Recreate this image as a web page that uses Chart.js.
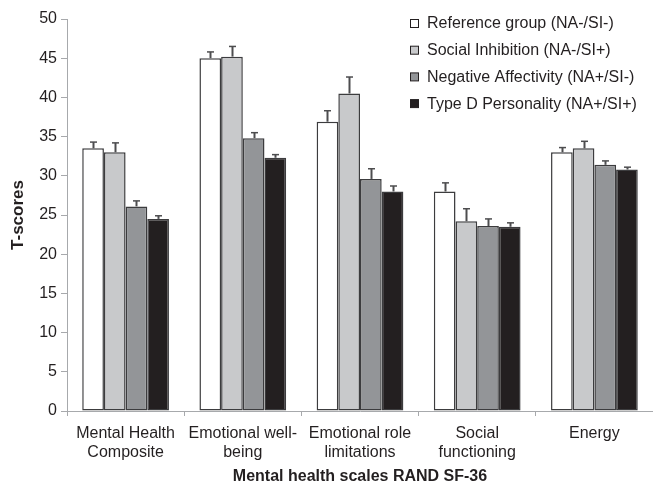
<!DOCTYPE html>
<html>
<head>
<meta charset="utf-8">
<script src="https://cdn.jsdelivr.net/npm/chart.js@4/dist/chart.umd.min.js"></script>
<style>
  html, body { margin: 0; padding: 0; background: #fff; }
  #wrap { width: 653px; height: 482px; position: relative; }
</style>
</head>
<body>
<div id="wrap"><canvas id="c" width="653" height="482"></canvas></div>
<script>
// Scale names (two-line labels)
const categories = [
  ['Mental Health', 'Composite'],
  ['Emotional well-', 'being'],
  ['Emotional role', 'limitations'],
  ['Social', 'functioning'],
  ['Energy']
];

// Group labels
const groupNames = [
  'Reference group (NA-/SI-)',
  'Social Inhibition (NA-/SI+)',
  'Negative Affectivity (NA+/SI-)',
  'Type D Personality (NA+/SI+)'
];

// Mean T-scores per group
const referenceMeans = [33.5, 45.0, 36.9, 28.0, 33.0];
const socialInhibitionMeans = [33.0, 45.2, 40.5, 24.2, 33.5];
const negativeAffectivityMeans = [26.1, 34.8, 29.6, 23.6, 31.4];
const typeDMeans = [24.5, 32.3, 28.0, 23.5, 30.8];

// Upper error bar lengths per group
const referenceErr = [0.8, 0.8, 1.4, 1.1, 0.6];
const socialInhibitionErr = [1.2, 1.3, 2.1, 1.6, 0.9];
const negativeAffectivityErr = [0.7, 0.7, 1.3, 0.9, 0.5];
const typeDErr = [0.4, 0.4, 0.7, 0.5, 0.3];

// Y axis ticks
const yTicks = [0, 5, 10, 15, 20, 25, 30, 35, 40, 45, 50];

const fills = ['#ffffff', '#c8c9cb', '#939598', '#231f20'];
const ink = '#231f20';
const axisGray = '#a7a9ac';
const FONT = '"Liberation Sans", Arial, Helvetica, sans-serif';

const means = [referenceMeans, socialInhibitionMeans, negativeAffectivityMeans, typeDMeans];
const errs = [referenceErr, socialInhibitionErr, negativeAffectivityErr, typeDErr];

// Upward-only error bars with a cap
const errorBars = {
  id: 'errorBars',
  afterDatasetsDraw(chart) {
    const ctx = chart.ctx;
    const y = chart.scales.y;
    ctx.save();
    ctx.strokeStyle = '#4d4d4f';
    chart.data.datasets.forEach((ds, di) => {
      const meta = chart.getDatasetMeta(di);
      meta.data.forEach((bar, i) => {
        const top = y.getPixelForValue(ds.data[i] + ds.errors[i]);
        const x = Math.round(bar.x) + 0.5;
        ctx.lineWidth = 2;
        ctx.beginPath();
        ctx.moveTo(x, bar.y);
        ctx.lineTo(x, top);
        ctx.stroke();
        ctx.lineWidth = 1.5;
        ctx.beginPath();
        ctx.moveTo(x - 3.5, top);
        ctx.lineTo(x + 3.5, top);
        ctx.stroke();
      });
    });
    ctx.restore();
  }
};

// Legend in the upper right of the plot
const boxLegend = {
  id: 'boxLegend',
  afterDraw(chart) {
    const ctx = chart.ctx;
    ctx.save();
    ctx.font = '16px ' + FONT;
    ctx.textBaseline = 'middle';
    chart.data.datasets.forEach((ds, i) => {
      const cy = 23.5 + i * 26.7;
      ctx.fillStyle = ds.backgroundColor;
      ctx.fillRect(410.5, cy - 4, 8, 8);
      ctx.strokeStyle = '#231f20';
      ctx.lineWidth = 1;
      ctx.strokeRect(410.5, cy - 4, 8, 8);
      ctx.fillStyle = ink;
      ctx.fillText(ds.label, 427, cy + 0.5);
    });
    ctx.restore();
  }
};

new Chart(document.getElementById('c'), {
  type: 'bar',
  data: {
    labels: categories,
    datasets: groupNames.map((name, i) => ({
      label: name,
      data: means[i],
      errors: errs[i],
      backgroundColor: fills[i],
      borderColor: '#3c3c3e',
      borderWidth: 1.5,
      borderSkipped: false,
      categoryPercentage: 0.74,
      barPercentage: 1.0
    }))
  },
  options: {
    responsive: false,
    animation: false,
    devicePixelRatio: 1,
    layout: { padding: { top: 19, right: 0, left: 10, bottom: 0 } },
    plugins: {
      legend: { display: false },
      tooltip: { enabled: false }
    },
    scales: {
      x: {
        grid: {
          display: true,
          drawOnChartArea: false,
          drawTicks: true,
          tickLength: 5,
          color: axisGray,
          offset: true
        },
        border: { color: axisGray, width: 1 },
        ticks: {
          color: ink,
          font: { family: FONT, size: 16 },
          padding: 8,
          maxRotation: 0,
          autoSkip: false
        },
        title: {
          display: true,
          text: 'Mental health scales RAND SF-36',
          color: ink,
          font: { family: FONT, size: 16, weight: 'bold', lineHeight: 1.0 },
          padding: { top: 8, bottom: -3 }
        },
        afterFit(s) { s.height = 71; }
      },
      y: {
        min: 0,
        max: 50,
        afterBuildTicks(s) { s.ticks = yTicks.map(v => ({ value: v })); },
        grid: {
          display: true,
          drawOnChartArea: false,
          drawTicks: true,
          tickLength: 6,
          color: axisGray
        },
        border: { color: axisGray, width: 1 },
        ticks: {
          color: ink,
          font: { family: FONT, size: 16 },
          padding: 4
        },
        title: {
          display: true,
          text: 'T-scores',
          color: ink,
          font: { family: FONT, size: 17, weight: 'bold', lineHeight: 1.0 },
          padding: { top: 0, bottom: 4 }
        },
        afterFit(s) { s.width = 57; }
      }
    }
  },
  plugins: [errorBars, boxLegend]
});
</script>
</body>
</html>
